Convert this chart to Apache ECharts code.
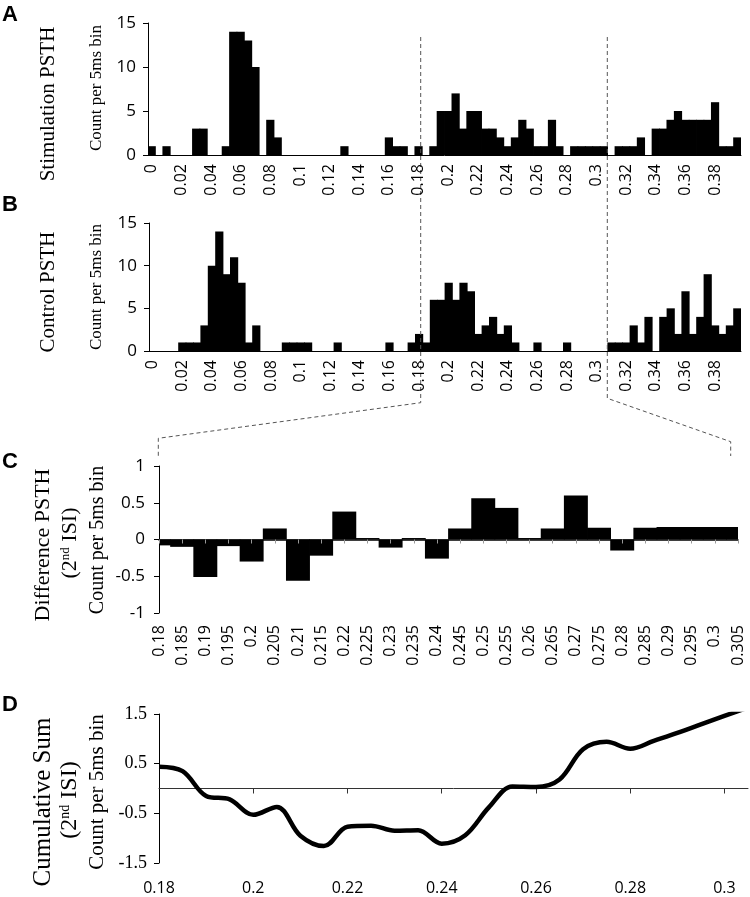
<!DOCTYPE html>
<html><head><meta charset="utf-8">
<script src="https://cdn.jsdelivr.net/npm/echarts@6/dist/echarts.min.js"></script>
<style>html,body{margin:0;padding:0;background:#fff}#c{width:750px;height:897px}</style>
</head><body><div id="c"></div>
<script>
// ---- data ----
const binLabels = ["0","0.005","0.01","0.015","0.02","0.025","0.03","0.035","0.04","0.045","0.05","0.055","0.06","0.065","0.07","0.075","0.08","0.085","0.09","0.095","0.1","0.105","0.11","0.115","0.12","0.125","0.13","0.135","0.14","0.145","0.15","0.155","0.16","0.165","0.17","0.175","0.18","0.185","0.19","0.195","0.2","0.205","0.21","0.215","0.22","0.225","0.23","0.235","0.24","0.245","0.25","0.255","0.26","0.265","0.27","0.275","0.28","0.285","0.29","0.295","0.3","0.305","0.31","0.315","0.32","0.325","0.33","0.335","0.34","0.345","0.35","0.355","0.36","0.365","0.37","0.375","0.38","0.385","0.39","0.395"];
const stimCounts = [1,0,1,0,0,0,3,3,0,0, 1,14,14,13,10,0,4,2,0,0, 0,0,0,0,0,0,1,0,0,0, 0,0,2,1,1,0,1,0,1,5, 5,7,3,5,5,3,3,2,1,2, 4,3,1,1,4,1,0,1,1,1, 1,1,0,1,1,1,2,0,3,3, 4,5,4,4,4,4,6,1,1,2];
const controlCounts = [0,0,0,0,1,1,1,3,10,14, 9,11,8,1,3,0,0,0,1,1, 1,1,0,0,0,1,0,0,0,0, 0,0,1,0,0,1,2,1,6,6, 8,6,8,7,2,3,4,2,3,1, 0,0,1,0,0,0,1,0,0,0, 0,0,1,1,1,3,1,4,0,4, 5,2,7,2,4,9,3,2,3,5];
const diffBins = ["0.18","0.185","0.19","0.195","0.2","0.205","0.21","0.215","0.22","0.225","0.23","0.235","0.24","0.245","0.25","0.255","0.26","0.265","0.27","0.275","0.28","0.285","0.29","0.295","0.3","0.305"];
const diffValues = [-0.08,-0.1,-0.51,-0.09,-0.3,0.15,-0.56,-0.22,0.38,0.02,-0.11,0.02,-0.26,0.15,0.56,0.43,0.02,0.15,0.6,0.16,-0.15,0.16,0.17,0.17,0.17,0.17];
const cumX = [0.18,0.185,0.19,0.195,0.2,0.205,0.21,0.215,0.22,0.225,0.23,0.235,0.24,0.245,0.25,0.255,0.26,0.265,0.27,0.275,0.28,0.285,0.29,0.295,0.3,0.305];
const cumValues = [0.44,0.35,-0.15,-0.22,-0.53,-0.37,-0.95,-1.16,-0.77,-0.75,-0.85,-0.84,-1.11,-0.94,-0.38,0.04,0.03,0.18,0.79,0.94,0.8,0.96,1.12,1.29,1.46,1.63];
const cumTickLabels = [0.18,0.2,0.22,0.24,0.26,0.28,0.3];
const cumTicks = [0.2,0.22,0.24,0.26,0.28,0.3];
const cumYTicks = [-1.5,-0.5,0.5,1.5];

const SANS = '"Open Sans", sans-serif';
const SERIF = '"Liberation Serif", serif';

const chart = echarts.init(document.getElementById('c'), null, {renderer:'canvas'});

function histX(gridIndex){
  return {type:'category', gridIndex, data: binLabels, boundaryGap:true,
    axisLine:{lineStyle:{color:'#000',width:1}},
    axisTick:{interval:0,length:5,lineStyle:{color:'#000'}},
    axisLabel:{interval:3,rotate:90,margin:9,fontFamily:SANS,fontSize:16,color:'#000'},
    splitLine:{show:false}, z:5};
}
function histY(gridIndex){
  return {type:'value', gridIndex, min:0, max:15, interval:5,
    axisLine:{show:true,lineStyle:{color:'#000',width:1}},
    axisTick:{show:true,length:5,lineStyle:{color:'#000'}},
    axisLabel:{margin:12,fontFamily:SANS,fontSize:17,color:'#000'},
    splitLine:{show:false}};
}
function vtext(text, x, y, size){
  return {type:'text', x, y, rotation:Math.PI/2, z:10,
    style:{text, font: size+'px '+SERIF, fill:'#000', textAlign:'center', textVerticalAlign:'middle'}};
}
function supText(x, y, size){
  return {type:'text', x, y, rotation:Math.PI/2, z:10,
    style:{text:'(2{sup|nd} ISI)', font:size+'px '+SERIF, fill:'#000', textAlign:'center', textVerticalAlign:'middle',
      rich:{sup:{fontSize:Math.round(size*0.6), fontFamily:SERIF, verticalAlign:'top', lineHeight:size}}}};
}
function letter(t, x, y){
  return {type:'text', x, y, z:10, style:{text:t, font:'bold 22px "Liberation Sans", Arial, sans-serif', fill:'#000', textAlign:'left', textVerticalAlign:'middle'}};
}
const dash = {stroke:'#555', lineWidth:1, lineDash:[4,3], fill:null};

// histogram bar: full band width, slightly overlapping neighbours so equal bars merge
function renderBin(params, api){
  const idx = api.value(0);
  const v = api.value(1);
  if (!v) return null;
  const p0 = api.coord([idx, 0]);
  const p1 = api.coord([idx, v]);
  const bw = api.size([1, 0])[0];
  const rect = echarts.graphic.clipRectByRect(
    {x: p0[0] - bw/2 - 0.4, y: Math.min(p0[1], p1[1]), width: bw + 0.8, height: Math.abs(p1[1] - p0[1])},
    {x: params.coordSys.x, y: params.coordSys.y, width: params.coordSys.width, height: params.coordSys.height});
  return rect && {type:'rect', shape: rect, style:{fill:'#000'}};
}

const option = {
  animation:false,
  backgroundColor:'#fff',
  grid:[
    {left:148, top:23, width:593, height:132},
    {left:149, top:223, width:592, height:128},
    {left:159, top:466, width:579, height:147},
    {left:159, top:714, width:589, height:149}
  ],
  xAxis:[
    histX(0),
    histX(1),
    {type:'category', gridIndex:2, data:diffBins, boundaryGap:false, position:'bottom',
      axisLine:{onZero:true,lineStyle:{color:'#000',width:1.5}},
      axisTick:{interval:0,length:4,lineStyle:{color:'#999'}},
      axisLabel:{show:false}, splitLine:{show:false}, z:5},
    {type:'category', gridIndex:2, data:diffBins, boundaryGap:false, position:'bottom',
      axisLine:{show:false,onZero:false}, axisTick:{show:false},
      axisLabel:{interval:0,rotate:90,margin:12,fontFamily:SANS,fontSize:16,color:'#000'},
      splitLine:{show:false}},
    {type:'value', gridIndex:3, min:0.18, max:0.305, position:'bottom',
      axisLine:{onZero:true,lineStyle:{color:'#333',width:1}},
      axisTick:{show:true,length:5,customValues:cumTicks,lineStyle:{color:'#333'}},
      axisLabel:{show:false}, splitLine:{show:false}},
    {type:'value', gridIndex:3, min:0.18, max:0.305, position:'bottom',
      axisLine:{show:false,onZero:false}, axisTick:{show:false},
      axisLabel:{customValues:cumTickLabels, margin:17, fontFamily:SANS, fontSize:16, color:'#000',
        formatter:(v)=>String(+v.toFixed(3))},
      splitLine:{show:false}}
  ],
  yAxis:[
    histY(0),
    histY(1),
    {type:'value', gridIndex:2, min:-1, max:1, interval:0.5,
      axisLine:{show:true,lineStyle:{color:'#000',width:1}},
      axisTick:{show:true,length:5,lineStyle:{color:'#000'}},
      axisLabel:{margin:14,fontFamily:SANS,fontSize:17,color:'#000'},
      splitLine:{show:false}},
    {type:'value', gridIndex:3, min:-1.5, max:1.5,
      axisLine:{show:true,onZero:false,lineStyle:{color:'#000',width:1}},
      axisTick:{show:true,length:5,customValues:cumYTicks,lineStyle:{color:'#000'}},
      axisLabel:{customValues:cumYTicks,margin:12,fontFamily:SERIF,fontSize:18,color:'#000'},
      splitLine:{show:false}}
  ],
  series:[
    {type:'custom', xAxisIndex:0, yAxisIndex:0, data:stimCounts.map((v,i)=>[i,v]), encode:{x:0,y:1}, renderItem:renderBin},
    {type:'custom', xAxisIndex:1, yAxisIndex:1, data:controlCounts.map((v,i)=>[i,v]), encode:{x:0,y:1}, renderItem:renderBin},
    {type:'custom', xAxisIndex:2, yAxisIndex:2, data:diffValues.map((v,i)=>[i,v]), encode:{x:0,y:1}, renderItem:renderBin, z:2},
    {type:'line', xAxisIndex:4, yAxisIndex:3, data:cumX.map((x,i)=>[x,cumValues[i]]), smooth:0.35,
      showSymbol:false, symbol:'none', clip:true, lineStyle:{color:'#000',width:4.5}}
  ],
  graphic:[
    {type:'polyline', z:5, shape:{points:[[420.7,37],[420.7,402.7],[158.3,438.3],[158.3,456]]}, style:dash},
    {type:'polyline', z:5, shape:{points:[[607.3,37],[607.3,398.3],[730.7,441.7],[730.7,456]]}, style:dash},
    letter('A',2,15),
    letter('B',2,205),
    letter('C',2,462),
    letter('D',2,705),
    vtext('Stimulation PSTH',48,104,21),
    vtext('Count per 5ms bin',97,88,17),
    vtext('Control PSTH',48,292,21),
    vtext('Count per 5ms bin',97,287,17),
    vtext('Difference PSTH',43,545,22),
    supText(70,543,22),
    vtext('Count per 5ms bin',98,540,20),
    vtext('Cumulative Sum',43,802,25),
    supText(70,800,24),
    vtext('Count per 5ms bin',97,792,21)
  ]
};
chart.setOption(option);
</script>
</body></html>
